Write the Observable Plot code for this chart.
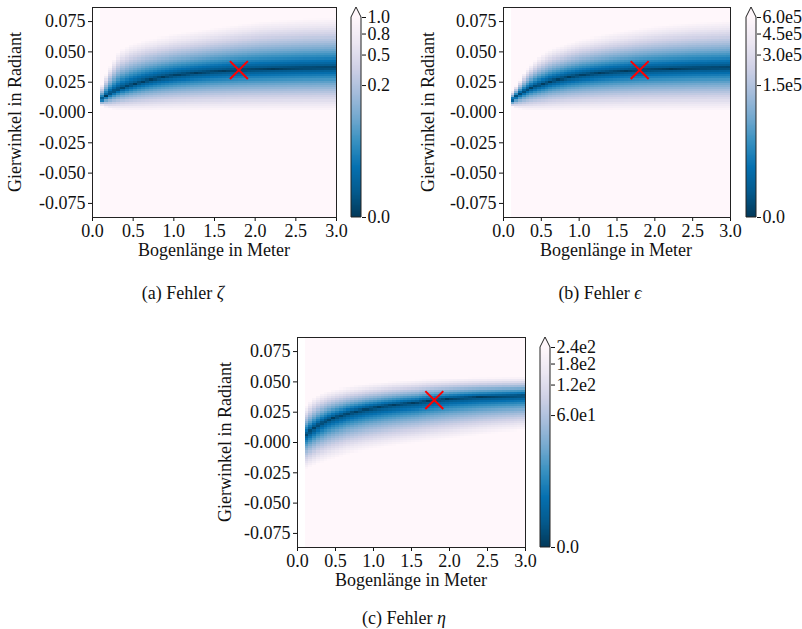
<!DOCTYPE html>
<html><head><meta charset="utf-8">
<script src="https://cdn.jsdelivr.net/npm/d3@7"></script>
<script src="https://cdn.jsdelivr.net/npm/@observablehq/plot@0.6"></script>
<style>
html,body{margin:0;padding:0;background:#fff;}
#root{position:relative;width:802px;height:629px;overflow:hidden;font-family:"Liberation Serif","DejaVu Serif",serif;color:#111;}
#root svg{position:absolute;}
#root svg text{font-family:"Liberation Serif","DejaVu Serif",serif !important;}
.lbl{position:absolute;font-size:18px;white-space:nowrap;line-height:1;}
</style></head><body><div id="root"></div>
<script>
// ---------- data ----------
const arcTicks = [0, 0.5, 1, 1.5, 2, 2.5, 3];
const arcTickLabels = ["0.0", "0.5", "1.0", "1.5", "2.0", "2.5", "3.0"];
const yawTicks = [0.075, 0.05, 0.025, 0, -0.025, -0.05, -0.075];
const yawTickLabels = ["0.075", "0.050", "0.025", "-0.000", "-0.025", "-0.050", "-0.075"];
const yawLimit = 0.0866;

// grid columns (Bogenlänge, 0.05 wide, starting at 0.1) and rows (Gierwinkel, 100 rows over the range)
const arcLength = d3.range(58).map(i => +(0.125 + 0.05 * i).toFixed(3));
const yawStep = 2 * yawLimit / 100;
const yawRows = d3.range(100).map(i => -yawLimit + yawStep * (i + 0.5));

// target marker
const targetArc = [1.8];
const targetYaw = [0.035];

// colorbar ticks (fractions of vmax) and labels
const barFractions = [0, 0.25, 0.5, 0.75, 1];
const barLabelsA = ["0.0", "0.2", "0.5", "0.8", "1.0"];
const barLabelsB = ["0.0", "1.5e5", "3.0e5", "4.5e5", "6.0e5"];
const barLabelsC = ["0.0", "6.0e1", "1.2e2", "1.8e2", "2.4e2"];
const vmaxA = 1.0, vmaxB = 6.0e5, vmaxC = 2.4e2;

// centre line of minimal error per column, upper / lower fade-out edges
const centerA = [0.0105,0.0130,0.0152,0.0171,0.0187,0.0201,0.0213,0.0224,0.0234,0.0243,
 0.0252,0.0260,0.0267,0.0274,0.0280,0.0286,0.0291,0.0296,0.0301,0.0305,
 0.0309,0.0313,0.0317,0.0320,0.0323,0.0326,0.0329,0.0332,0.0334,0.0336,
 0.0338,0.0340,0.0342,0.0344,0.0346,0.0347,0.0349,0.0350,0.0351,0.0352,
 0.0353,0.0354,0.0355,0.0356,0.0357,0.0358,0.0359,0.0360,0.0361,0.0362,
 0.0363,0.0363,0.0364,0.0365,0.0365,0.0366,0.0366,0.0367];
const upperA = [0.023,0.031,0.038,0.044,0.049,0.052,0.054,0.056,0.057,0.058,
 0.059,0.060,0.0605,0.061,0.062,0.0625,0.063,0.064,0.0645,0.065,
 0.0655,0.066,0.0665,0.067,0.0675,0.068,0.0685,0.069,0.0695,0.070,
 0.0705,0.071,0.0715,0.072,0.0725,0.073,0.0735,0.074,0.0745,0.075,
 0.0752,0.0755,0.0758,0.076,0.0762,0.0764,0.0766,0.0768,0.077,0.0772,
 0.0774,0.0775,0.0776,0.0777,0.0778,0.0779,0.078,0.078];
const lowerA = [0.0050,0.0035,0.0025,0.0020,0.0017,0.0015,0.0014,0.0013,0.0012,0.0011,
 0.001,0.001,0.001,0.001,0.001,0.001,0.001,0.001,0.001,0.001,
 0.001,0.001,0.001,0.001,0.001,0.001,0.001,0.001,0.001,0.001,
 0.001,0.001,0.001,0.001,0.001,0.001,0.001,0.001,0.001,0.001,
 0.001,0.001,0.001,0.001,0.001,0.001,0.001,0.001,0.001,0.001,
 0.001,0.001,0.001,0.001,0.001,0.001,0.001,0.001];

const centerB = [0.0100,0.0127,0.0150,0.0169,0.0186,0.0200,0.0212,0.0223,0.0233,0.0242,
 0.0252,0.0260,0.0267,0.0274,0.0280,0.0286,0.0291,0.0296,0.0301,0.0305,
 0.0309,0.0313,0.0317,0.0320,0.0323,0.0326,0.0329,0.0332,0.0334,0.0336,
 0.0338,0.0340,0.0342,0.0344,0.0346,0.0347,0.0349,0.0350,0.0351,0.0352,
 0.0353,0.0354,0.0355,0.0356,0.0357,0.0358,0.0359,0.0360,0.0361,0.0362,
 0.0363,0.0363,0.0364,0.0365,0.0365,0.0366,0.0366,0.0367];
const upperB = [0.0175,0.022,0.027,0.032,0.036,0.0395,0.043,0.046,0.048,0.050,
 0.0515,0.053,0.054,0.055,0.056,0.057,0.058,0.059,0.060,0.0605,
 0.061,0.0618,0.0625,0.063,0.0637,0.0643,0.065,0.0655,0.066,0.0665,
 0.067,0.0675,0.068,0.0685,0.069,0.0695,0.070,0.0704,0.0708,0.0712,
 0.0716,0.072,0.0723,0.0726,0.0729,0.0732,0.0735,0.0738,0.074,0.0742,
 0.0744,0.0746,0.0748,0.075,0.0752,0.0754,0.0756,0.0758];
const lowerB = [0.0042,0.0031,0.0023,0.0018,0.0015,0.0013,0.0012,0.0011,0.0010,0.0010,
 0.001,0.001,0.001,0.001,0.001,0.001,0.001,0.001,0.001,0.001,
 0.001,0.001,0.001,0.001,0.001,0.001,0.001,0.001,0.001,0.001,
 0.001,0.001,0.001,0.001,0.001,0.001,0.001,0.001,0.001,0.001,
 0.001,0.001,0.001,0.001,0.001,0.001,0.001,0.001,0.001,0.001,
 0.001,0.001,0.001,0.001,0.001,0.001,0.001,0.001];

const centerC = [0.0065,0.0090,0.0115,0.0137,0.0156,0.0172,0.0186,0.0199,0.0210,0.0220,
 0.0229,0.0238,0.0246,0.0253,0.0260,0.0266,0.0272,0.0277,0.0282,0.0287,
 0.0292,0.0296,0.0300,0.0304,0.0308,0.0312,0.0315,0.0318,0.0321,0.0324,
 0.0330,0.0334,0.0338,0.0342,0.0346,0.0349,0.0352,0.0355,0.0358,0.0360,
 0.0362,0.0364,0.0366,0.0368,0.0370,0.0372,0.0373,0.0374,0.0375,0.0376,
 0.0377,0.0378,0.0379,0.0380,0.0381,0.0382,0.0383,0.0384];
const upperC = [0.030,0.034,0.037,0.039,0.0405,0.0415,0.0425,0.0433,0.044,0.0446,
 0.0452,0.0457,0.0462,0.0466,0.047,0.0474,0.0478,0.0482,0.0485,0.0488,
 0.0491,0.0494,0.0497,0.050,0.0502,0.0504,0.0506,0.0508,0.051,0.0512,
 0.0514,0.0516,0.0518,0.052,0.0521,0.0522,0.0523,0.0524,0.0525,0.0526,
 0.0527,0.0528,0.0529,0.053,0.0531,0.0531,0.0532,0.0532,0.0533,0.0533,
 0.0534,0.0534,0.0535,0.0535,0.0536,0.0536,0.0537,0.0537];
const lowerC = [-0.0225,-0.021,-0.0195,-0.018,-0.017,-0.016,-0.015,-0.014,-0.013,-0.012,
 -0.011,-0.0102,-0.0095,-0.0088,-0.0081,-0.0075,-0.0069,-0.0063,-0.0057,-0.0052,
 -0.0047,-0.0042,-0.0037,-0.0032,-0.0027,-0.0023,-0.0019,-0.0015,-0.0011,-0.0007,
 -0.0003,0.0001,0.0005,0.0009,0.0013,0.0017,0.0021,0.0025,0.0029,0.0033,
 0.0037,0.0041,0.0045,0.0049,0.0053,0.0057,0.0061,0.0065,0.0069,0.0073,
 0.0076,0.0079,0.0082,0.0085,0.0088,0.0091,0.0094,0.0096];

// ---------- styling ----------
const FONT = '"Liberation Serif","DejaVu Serif",serif';
const PUBU = ["#fff7fb","#ece7f2","#d0d1e6","#a6bddb","#74a9cf","#3690c0","#0570b0","#045a8d","#023858"];
const cmap = d3.piecewise(d3.interpolateRgb, PUBU.slice().reverse());
const GAMMA = 0.3;     // colour normalisation exponent
const PROFILE = 0.7;   // how fast the colour fades from the centre line
const arcLabel = new Map(arcTicks.map((d, i) => [d, arcTickLabels[i]]));
const yawLabel = new Map(yawTicks.map((d, i) => [d, yawTickLabels[i]]));
const targets = targetArc.map((s, i) => ({s, yaw: targetYaw[i]}));
const root = document.getElementById("root");

function label(html, cx, cy, rotate) {
  const d = document.createElement("div");
  d.className = "lbl";
  d.innerHTML = html;
  d.style.left = cx + "px";
  d.style.top = cy + "px";
  d.style.transform = "translate(-50%,-50%)" + (rotate ? " rotate(-90deg)" : "");
  root.appendChild(d);
}

function heatmap(p) {
  const ml = 90, mr = 4, mt = 4, mb = 30;
  const colHalf = 0.025, rowHalf = yawStep / 2;
  const cells = [];
  arcLength.forEach((s, i) => {
    const c = p.center[i], wu = p.upper[i] - c, wd = c - p.lower[i];
    yawRows.forEach(y => {
      const d = y - c;
      const w = d >= 0 ? wu : wd;
      cells.push({s, y, v: p.vmax * Math.abs(d / w) ** (PROFILE / GAMMA)});
    });
  });
  const svg = Plot.plot({
    width: p.fw + ml + mr, height: p.fh + mt + mb,
    marginLeft: ml, marginRight: mr, marginTop: mt, marginBottom: mb,
    style: {fontFamily: FONT, fontSize: "18px", color: "#111", background: "none", overflow: "visible"},
    x: {domain: [0, 3], ticks: arcTicks, tickFormat: d => arcLabel.get(d), tickSize: 4, tickPadding: 3, label: null},
    y: {domain: [-yawLimit, yawLimit], ticks: yawTicks, tickFormat: d => yawLabel.get(d), tickSize: 4, tickPadding: 3, label: null},
    color: {type: "pow", exponent: GAMMA, domain: [0, p.vmax], interpolate: cmap, clamp: true},
    marks: [
      Plot.rect(cells, {x1: d => d.s - colHalf, x2: d => d.s + colHalf, y1: d => d.y - rowHalf, y2: d => d.y + rowHalf,
        fill: "v", shapeRendering: "crispEdges", clip: true}),
      Plot.dot(targets, {x: "s", y: "yaw", symbol: "times", r: 8.2, stroke: "#ff0000", strokeWidth: 2}),
      Plot.frame({stroke: "#222", strokeWidth: 1})
    ]
  });
  svg.style.left = (p.fx - ml) + "px";
  svg.style.top = (p.fy - mt) + "px";
  root.appendChild(svg);
}

function colorbar(p) {
  const bw = 10, tri = 10, ml = 1, mr = 50;
  const n = 240;
  const ramp = d3.range(n).map(i => ({
    lo: p.vmax * (i / n) ** (1 / GAMMA),
    hi: p.vmax * ((i + 1) / n) ** (1 / GAMMA),
    mid: p.vmax * ((i + 0.5) / n) ** (1 / GAMMA)
  }));
  const ticks = barFractions.map(f => f * p.vmax);
  const lab = new Map(ticks.map((t, i) => [t, p.labels[i]]));
  const H = p.bh + tri + 2;
  const svg = Plot.plot({
    width: ml + bw + mr, height: H,
    marginLeft: ml, marginRight: mr, marginTop: tri + 1, marginBottom: 1,
    style: {fontFamily: FONT, fontSize: "18px", color: "#111", background: "none", overflow: "visible"},
    x: {domain: [0, 1], axis: null},
    y: {type: "pow", exponent: GAMMA, domain: [0, p.vmax], axis: "right", ticks, tickFormat: d => lab.get(d), tickSize: 4, tickPadding: 2, label: null},
    color: {type: "pow", exponent: GAMMA, domain: [0, p.vmax], interpolate: cmap, clamp: true},
    marks: [
      Plot.rect(ramp, {x1: () => 0, x2: () => 1, y1: "lo", y2: "hi", fill: "mid", shapeRendering: "crispEdges"}),
      () => {
        const g = d3.create("svg:g");
        const x0 = ml, x1 = ml + bw, y0 = tri + 1, yb = H - 1, xm = (x0 + x1) / 2;
        g.append("path").attr("d", `M${x0},${y0}L${xm},${y0 - tri}L${x1},${y0}Z`).attr("fill", PUBU[0]);
        g.append("path").attr("d", `M${x0},${yb}L${x0},${y0}L${xm},${y0 - tri}L${x1},${y0}L${x1},${yb}Z`)
          .attr("fill", "none").attr("stroke", "#222").attr("stroke-width", 1);
        return g.node();
      }
    ]
  });
  svg.style.left = (p.bx - ml) + "px";
  svg.style.top = (p.by - tri - 1) + "px";
  root.appendChild(svg);
}

// ---------- panels ----------
heatmap({fx: 92, fy: 7, fw: 244, fh: 210, center: centerA, upper: upperA, lower: lowerA, vmax: vmaxA});
colorbar({bx: 351, by: 17, bh: 200, vmax: vmaxA, labels: barLabelsA});
label("Bogenlänge in Meter", 214, 250);
label("Gierwinkel in Radiant", 15, 112, true);
label("(a) Fehler <i>ζ</i>", 183, 293);

heatmap({fx: 503, fy: 7, fw: 227, fh: 210, center: centerB, upper: upperB, lower: lowerB, vmax: vmaxB});
colorbar({bx: 746, by: 17, bh: 200, vmax: vmaxB, labels: barLabelsB});
label("Bogenlänge in Meter", 616, 250);
label("Gierwinkel in Radiant", 428, 112, true);
label("(b) Fehler <i>ϵ</i>", 600, 293);

heatmap({fx: 297, fy: 337, fw: 228, fh: 210, center: centerC, upper: upperC, lower: lowerC, vmax: vmaxC});
colorbar({bx: 540, by: 347, bh: 200, vmax: vmaxC, labels: barLabelsC});
label("Bogenlänge in Meter", 411, 580);
label("Gierwinkel in Radiant", 225, 442, true);
label("(c) Fehler <i>η</i>", 404, 618);
</script></body></html>
